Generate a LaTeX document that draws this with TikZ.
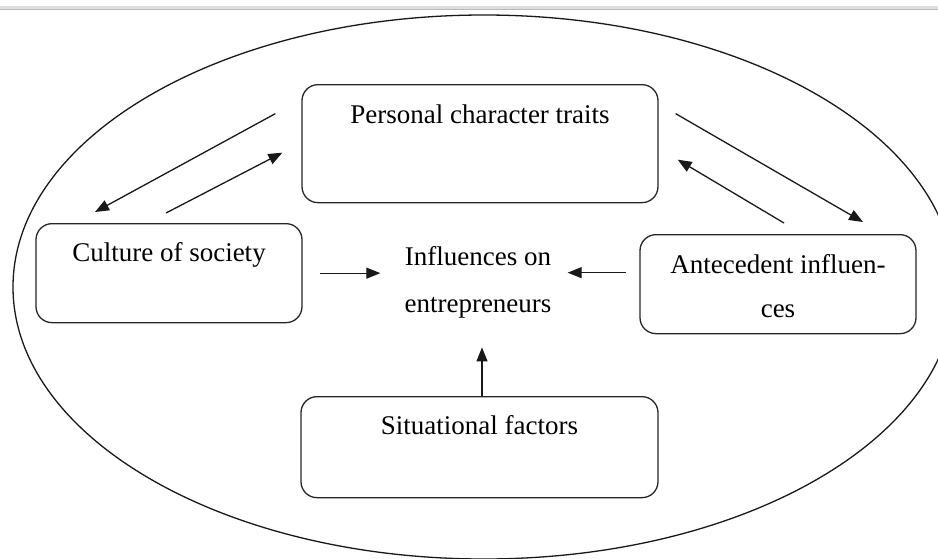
\documentclass[tikz,border=0pt]{standalone}
\usepackage{fontspec}
\setmainfont{Liberation Serif}
\usetikzlibrary{calc,arrows.meta}
\begin{document}
\begin{tikzpicture}[x=1pt,y=-1pt,
  box/.style={draw=black!85,line width=1.3pt,rounded corners=16pt,inner sep=0pt,
    font=\fontsize{27}{32}\selectfont},
  lbl/.style={inner sep=0pt,font=\fontsize{27}{32}\selectfont},
  arr/.style={draw=black!90,line width=1.3pt,-{Triangle[length=14pt,width=11pt]}}]
\useasboundingbox (0,0) rectangle (938,558);
\fill[white] (0,0) rectangle (938,558);
% top band
\fill[black!13] (0,5.5) rectangle (938,9);
\fill[black!27] (0,9) rectangle (938,10.3);
% outer ellipse
\draw[line width=1.3pt,black!90] (484,287) ellipse [x radius=471, y radius=272];
% boxes
\node[box,anchor=north,minimum width=356pt,text height=39pt,text depth=79pt] (pct) at (480,84) {Personal character traits};
\node[box,anchor=north,minimum width=266pt,text height=38pt,text depth=61pt] (cul) at (169,223) {Culture of society};
\node[box,anchor=north,minimum width=276pt,text height=39pt,text depth=60pt] (ant) at (778,234)
  {\begin{tabular}[t]{@{}c@{}}Antecedent influen-\\[12pt]ces\end{tabular}};
\node[box,anchor=north,minimum width=357pt,text height=38pt,text depth=63pt] (sit) at (479.5,396) {Situational factors};
% centre text
\node[lbl,anchor=north,text height=20pt,text depth=54pt] (inf) at (478,245)
  {\begin{tabular}[t]{@{}c@{}}Influences on\\[15pt]entrepreneurs\end{tabular}};
% arrows
\draw[arr] ($(pct.west)+(-26,-30)$) -- ($(cul.north)+(-74,-11)$);
\draw[arr] ($(cul.north)+(-3,-10)$) -- ($(pct.west)+(-19,9)$);
\draw[arr] ($(pct.east)+(17,-30)$) -- ($(ant.north)+(85,-12)$);
\draw[arr] ($(ant.north)+(6,-11)$) -- ($(pct.east)+(19,16)$);
\draw[arr] ($(cul.east)+(17,0)$) -- ($(cul.east -| inf.west)+(-24,0)$);
\draw[arr] ($(ant.west)+(-13,-11.5)$) -- ($(ant.west -| inf.east)+(16,-11.5)$);
\draw[arr] ($(sit.north)+(2.5,0)$) -- ($(sit.north |- inf.south)+(2.5,28)$);
\end{tikzpicture}
\end{document}
